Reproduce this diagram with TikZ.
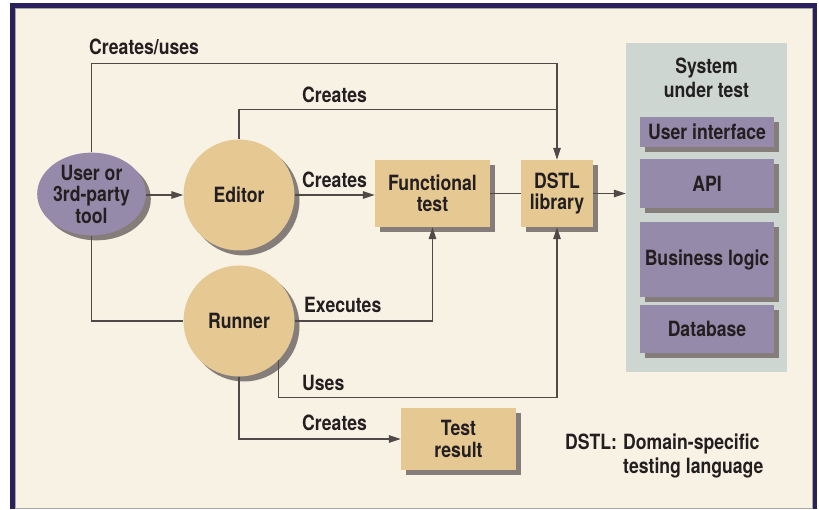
\documentclass[tikz,border=0pt]{standalone}
\usepackage{fontspec}
\setmainfont{TeX Gyre Heros}[FakeStretch=0.84]
\usetikzlibrary{shapes.geometric,arrows.meta,shadows,calc}
\definecolor{cream}{HTML}{F8F2E4}
\definecolor{navy}{HTML}{2B1F5C}
\definecolor{tanc}{HTML}{E6C893}
\definecolor{purp}{HTML}{968AAA}
\definecolor{shad}{HTML}{857D79}
\definecolor{panelc}{HTML}{CED6D2}
\definecolor{ink}{HTML}{231F20}
\definecolor{wire}{HTML}{4F4A48}
\begin{document}
\begin{tikzpicture}[x=1pt,y=-1pt,
  every node/.style={font=\fontsize{21}{21.5}\selectfont\bfseries, text=ink, inner sep=0pt},
  shd/.style={general shadow={fill=shad, shadow xshift=5pt, shadow yshift=-5pt}},
  tanbox/.style={rectangle, fill=tanc, shd, minimum width=115pt, minimum height=67pt, align=center},
  circ/.style={circle, fill=tanc, shd, minimum size=111pt, align=center},
  purpbox/.style={rectangle, fill=purp, shd, minimum width=134pt, align=center},
  lbl/.style={anchor=base west},
  wireline/.style={draw=wire, line width=1.2pt},
  arr/.style={wireline, -{Triangle[length=12pt,width=7.5pt]}}
]
\useasboundingbox (0,0) rectangle (819,510);
\fill[white] (0,0) rectangle (819,510);
\fill[navy] (10,3) rectangle (817,508.5);
\filldraw[fill=cream, draw=gray!70, line width=0.6pt] (15,8) rectangle (812,508);

% system under test panel
\node[rectangle, fill=panelc, minimum width=161pt, minimum height=329pt] (sut) at (706.5,207.5) {};
\node[align=center, font=\fontsize{21}{24.5}\selectfont\bfseries] (suttitle) at (706.5,78) {System\\under test};
\node[purpbox, minimum height=30pt] (ui) at (707,132) {User interface};
\node[purpbox, minimum height=49pt] (api) at (707,183.5) {API};
\node[purpbox, minimum height=75pt] (bl) at (707,259.5) {Business logic};
\node[purpbox, minimum height=48pt] (db) at (707,329) {Database};

% main nodes
\node[ellipse, fill=purp, shd, minimum width=103pt, minimum height=79pt, align=center] (user) at (91.5,194) {User or\\3rd-party\\tool};
\node[circ] (editor) at (239,195) {Editor};
\node[circ] (runner) at (239,321) {Runner};
\node[tanbox] (ft) at (432.5,193.5) {Functional\\test};
\node[tanbox, minimum width=72pt] (dstl) at (557,193.5) {DSTL\\library};
\node[tanbox, minimum height=62pt] (tr) at (458.5,439) {Test\\result};

% connectors
\draw[wireline] (user.north) |- ($(dstl.north)+(0,-96)$) -- ($(dstl.north)+(0,-50)$);
\draw[arr] (editor.north) |- ($(dstl.north)+(0,-50)$) -- (dstl.north);
\draw[arr] (user.east |- editor.west) -- (editor.west);
\draw[arr] (editor.east) -- (editor.east -| ft.west);
\draw[wireline] (ft.east) -- (dstl.west);
\draw[arr] (dstl.east) -- (dstl.east -| sut.west);
\draw[wireline] (user.south) |- (runner.west);
\draw[arr] (runner.east) -| (ft.south);
\draw[arr] (runner.-45) |- ($(dstl.south)+(0,170)$) -- (dstl.south);
\draw[arr] (runner.south) |- (tr.west);

% labels
\node[lbl] (l1) at (89,55) {Creates/uses};
\node[lbl] (l2) at (302,103) {Creates};
\node[lbl] (l3) at (302,188) {Creates};
\node[lbl] (l4) at (304,313) {Executes};
\node[lbl] (l5) at (302,390) {Uses};
\node[lbl] (l6) at (302,430) {Creates};
\node[lbl] (k1) at (565,449) {DSTL:};
\node[lbl] (k2) at (623,449) {Domain-specific};
\node[lbl] (k3) at (623,473) {testing language};
\end{tikzpicture}
\end{document}
